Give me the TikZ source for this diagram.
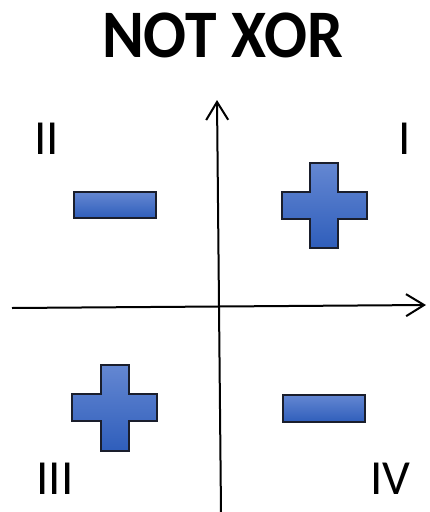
\documentclass[tikz,border=0pt]{standalone}
\usepackage{fontspec}
\setmainfont{Carlito}
\usetikzlibrary{arrows.meta}
\definecolor{figtop}{HTML}{6487D2}
\definecolor{figbot}{HTML}{2F5EBB}
\definecolor{figedge}{HTML}{1A1E2C}
\tikzset{
  figure/.style={draw=figedge, line width=1.5pt, top color=figtop, bottom color=figbot, line join=miter},
  axis/.style={line width=2pt, -{Straight Barb[length=18pt,width=22pt,line width=2pt]}},
  quad/.style={inner sep=0pt, font=\fontsize{49}{49}\selectfont},
  titlestyle/.style={inner sep=0pt, font=\fontsize{68}{68}\selectfont\bfseries}
}
\begin{document}
\begin{tikzpicture}[x=1pt,y=-1pt]
\useasboundingbox (0,0) rectangle (429,512);
% title
\node[titlestyle] (title) at (222.5,35) {\scalebox{0.935}[1]{NOT XOR}};
% axes
\coordinate (vb) at (221,512);
\coordinate (vt) at (217,100);
\coordinate (hl) at (12,308);
\coordinate (hr) at (426,305);
\draw[axis] (vb) -- (vt);
\draw[axis] (hl) -- (hr);
% quadrant labels
\node[quad] (q1) at (405,138.5) {I};
\node[quad] (q2) at (46.5,138.5) {II};
\node[quad] (q3) at (55,479) {III};
\node[quad] (q4) at (390.5,479) {IV};
% plus Q1
\path[figure] (310,163) -- (338,163) -- (338,192) -- (367,192) -- (367,219) -- (338,219) -- (338,248) -- (310,248) -- (310,219) -- (282,219) -- (282,192) -- (310,192) -- cycle;
% minus Q2
\path[figure] (74,192) rectangle (156,218);
% plus Q3
\path[figure] (101,365) -- (129,365) -- (129,394) -- (157,394) -- (157,421) -- (129,421) -- (129,451) -- (101,451) -- (101,421) -- (72,421) -- (72,394) -- (101,394) -- cycle;
% minus Q4
\path[figure] (283,395) rectangle (365,422);
\end{tikzpicture}
\end{document}
